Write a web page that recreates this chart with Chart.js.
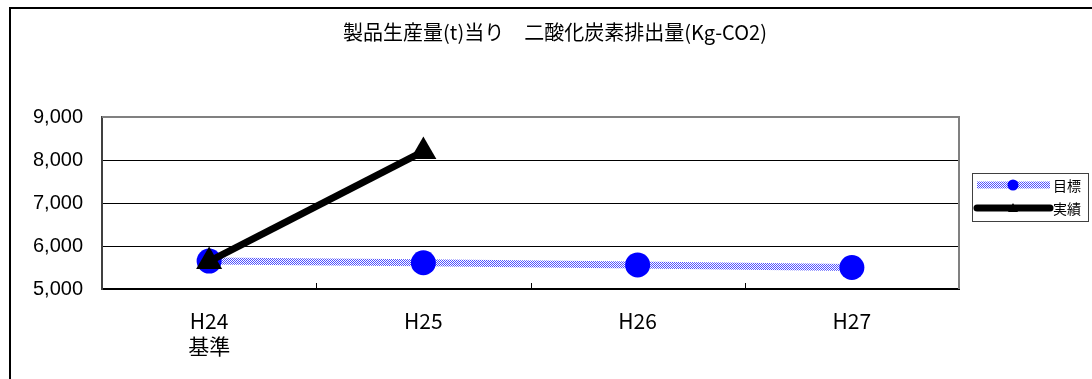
<!DOCTYPE html>
<html>
<head>
<meta charset="utf-8">
<script src="https://cdn.jsdelivr.net/npm/chart.js@4.4.0/dist/chart.umd.min.js"></script>
<style>
  html, body { margin: 0; padding: 0; background: #fff; overflow: hidden; }
  #wrap { position: relative; width: 1092px; height: 379px; }
  #frame { position: absolute; left: 9px; top: 7px; width: 1100px; height: 400px; border: 2px solid #000; }
  #chart { position: absolute; left: 0; top: 0; }
</style>
</head>
<body>
<div id="wrap">
  <div id="frame"></div>
  <canvas id="chart" width="1092" height="379"></canvas>
</div>
<script>
// data
const chartTitle = '製品生産量(t)当り　二酸化炭素排出量(Kg-CO2)';
const categories = [['H24', '基準'], 'H25', 'H26', 'H27'];
const seriesNames = ['目標', '実績'];
const targetValues = [5650, 5610, 5560, 5500];
const actualValues = [5640, 8200, null, null];
const yMin = 5000;
const yMax = 9000;
const yStep = 1000;

const jpFont = "'Noto Sans CJK JP', 'Liberation Sans', sans-serif";
const numFont = "'Liberation Sans', Arial, sans-serif";

// dotted blue fill like the excel pattern line
function makePattern() {
    var c = document.createElement('canvas');
    c.width = 2; c.height = 2;
    var g = c.getContext('2d');
    g.fillStyle = '#ffffff';
    g.fillRect(0, 0, 2, 2);
    g.fillStyle = '#5050ff';
    g.fillRect(0, 0, 1, 1);
    g.fillRect(1, 1, 1, 1);
    return g.createPattern(c, 'repeat');
}
var ctx = document.getElementById('chart').getContext('2d');
var bluePattern = makePattern();

// title centred on the whole frame, plot frame, inner category ticks
const framePlugin = {
    id: 'framePlugin',
    beforeDatasetsDraw(chart) {
        const a = chart.chartArea, c = chart.ctx, x = chart.scales.x;
        c.save();
        c.fillStyle = '#000';
        c.font = '20px ' + jpFont;
        c.textAlign = 'center';
        c.textBaseline = 'middle';
        c.fillText(chartTitle, 555, 32);
        c.strokeStyle = '#808080';
        c.lineWidth = 2;
        c.beginPath();
        c.moveTo(a.left, a.top); c.lineTo(a.right, a.top); c.lineTo(a.right, a.bottom);
        c.stroke();
        c.strokeStyle = '#000';
        c.lineWidth = 1;
        for (var i = 1; i < categories.length; i++) {
            var px = Math.round((x.getPixelForValue(i - 1) + x.getPixelForValue(i)) / 2) + 0.5;
            c.beginPath();
            c.moveTo(px, a.bottom - 6);
            c.lineTo(px, a.bottom);
            c.stroke();
        }
        c.restore();
    }
};

// excel-like legend box on the right
const legendPlugin = {
    id: 'legendPlugin',
    afterDraw(chart) {
        const c = chart.ctx;
        const bx = 972, by = 173, bw = 116, bh = 48;
        c.save();
        c.fillStyle = '#fff';
        c.fillRect(bx, by, bw, bh);
        c.strokeStyle = '#404040';
        c.lineWidth = 1;
        c.strokeRect(bx + 0.5, by + 0.5, bw, bh);
        chart.data.datasets.forEach(function (ds, i) {
            var y = by + 12 + i * 23;
            c.strokeStyle = ds.borderColor;
            c.lineWidth = 7;
            c.lineCap = i === 1 ? 'round' : 'butt';
            c.beginPath();
            c.moveTo(bx + 5, y);
            c.lineTo(bx + 78, y);
            c.stroke();
            c.fillStyle = ds.pointBackgroundColor;
            c.beginPath();
            if (ds.pointStyle === 'triangle') {
                c.moveTo(bx + 41, y - 5);
                c.lineTo(bx + 46, y + 4);
                c.lineTo(bx + 36, y + 4);
                c.closePath();
            } else {
                c.arc(bx + 41, y, 5.5, 0, Math.PI * 2);
            }
            c.fill();
            c.fillStyle = '#000';
            c.font = '14px ' + jpFont;
            c.textBaseline = 'middle';
            c.fillText(ds.label, bx + 81, y + 1);
        });
        c.restore();
    }
};

var chart = new Chart(ctx, {
    type: 'line',
    data: {
        labels: categories,
        datasets: [{
            label: seriesNames[0],
            data: targetValues,
            borderColor: bluePattern,
            borderWidth: 7,
            pointStyle: 'circle',
            pointRadius: 12.5,
            pointHoverRadius: 12.5,
            pointBackgroundColor: '#0000ff',
            pointBorderWidth: 0,
            tension: 0,
            order: 2
        }, {
            label: seriesNames[1],
            data: actualValues,
            borderColor: '#000000',
            borderWidth: 7,
            pointStyle: 'triangle',
            pointRadius: 15,
            pointHoverRadius: 15,
            pointBackgroundColor: '#000000',
            pointBorderWidth: 0,
            tension: 0,
            order: 1
        }]
    },
    options: {
        responsive: false,
        animation: false,
        layout: { padding: { left: 0, right: 133, top: 117, bottom: 0 } },
        plugins: {
            legend: { display: false },
            tooltip: { enabled: false },
            title: { display: false }
        },
        scales: {
            x: {
                offset: true,
                grid: { display: false, offset: true },
                border: { color: '#000', width: 2 },
                ticks: {
                    color: '#000',
                    font: { family: jpFont, size: 21, lineHeight: 1.2 },
                    maxRotation: 0,
                    autoSkip: false,
                    padding: 11
                },
                afterFit: function (s) { s.height = 90; }
            },
            y: {
                min: yMin,
                max: yMax,
                grid: { color: '#000', lineWidth: 1, drawTicks: false },
                border: { color: '#404040', width: 2 },
                ticks: {
                    stepSize: yStep,
                    color: '#000',
                    padding: 19,
                    font: { family: numFont, size: 20 },
                    callback: function (v) { return v.toLocaleString('en-US'); }
                },
                afterFit: function (s) { s.width = 102; }
            }
        }
    },
    plugins: [framePlugin, legendPlugin]
});
</script>
</body>
</html>
